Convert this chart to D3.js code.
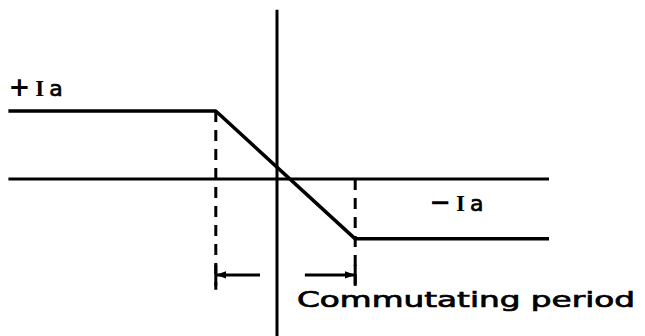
<!DOCTYPE html>
<html>
<head>
<meta charset="utf-8">
<script src="https://cdn.jsdelivr.net/npm/d3@7"></script>
<style>
  html, body { margin: 0; padding: 0; background: #fff; }
  svg text { font-family: "DejaVu Sans", sans-serif; fill: #000; }
</style>
</head>
<body>
<div id="chart"></div>
<script>
// current waveform during commutation (time in arbitrary units, current in units of Ia)
const waveT = [-3.95, -0.9, 1.15, 4.0];
const waveI = [1, 1, -0.88, -0.88];

const axisT = [-3.95, 4.0];     // horizontal axis extent
const axisI = [2.49, -2.31];    // vertical axis extent

const commStart = -0.9;
const commEnd = 1.15;
const dashLeftI = [1, -1.63];
const dashRightI = [0, -1.55];
const arrowI = -1.41;
const arrowLeftFrom = -0.25;
const arrowRightFrom = 0.41;

const labelPos = { text: "+", t: -3.95, i: 1.22 };
const labelNeg = { text: "\u2212", t: 2.24, i: -0.47 };
const periodLabel = "Commutating period";

const width = 645, height = 336;

const svg = d3.select("#chart").append("svg")
  .attr("width", width)
  .attr("height", height);

const x = d3.scaleLinear().domain([-4, 4]).range([5, 549]);
const y = d3.scaleLinear().domain([0, 1]).range([179, 111]);

svg.append("defs").append("marker")
  .attr("id", "arrow")
  .attr("viewBox", "0 0 10 10")
  .attr("refX", 10)
  .attr("refY", 5)
  .attr("markerWidth", 3.5)
  .attr("markerHeight", 3.5)
  .attr("markerUnits", "strokeWidth")
  .attr("orient", "auto")
  .append("path")
  .attr("d", "M0,1.5 L10,5 L0,8.5 Z")
  .attr("fill", "#000");

// axes
svg.append("line")
  .attr("x1", x(axisT[0])).attr("x2", x(axisT[1]))
  .attr("y1", y(0)).attr("y2", y(0))
  .attr("stroke", "#000").attr("stroke-width", 3);

svg.append("line")
  .attr("x1", x(0)).attr("x2", x(0))
  .attr("y1", y(axisI[0])).attr("y2", y(axisI[1]))
  .attr("stroke", "#000").attr("stroke-width", 3);

// waveform
const pts = waveT.map((t, k) => [t, waveI[k]]);
svg.append("path")
  .datum(pts)
  .attr("fill", "none")
  .attr("stroke", "#000")
  .attr("stroke-width", 3.5)
  .attr("stroke-linejoin", "round")
  .attr("d", d3.line().x(d => x(d[0])).y(d => y(d[1])));

// dashed guides
[[commStart, dashLeftI], [commEnd, dashRightI]].forEach(([t, r]) => {
  svg.append("line")
    .attr("x1", x(t)).attr("x2", x(t))
    .attr("y1", y(r[0])).attr("y2", y(r[1]))
    .attr("stroke", "#000").attr("stroke-width", 3)
    .attr("stroke-dasharray", "11,8");
});

// commutating period arrows with end ticks
[[arrowLeftFrom, commStart], [arrowRightFrom, commEnd]].forEach(([a, b]) => {
  svg.append("line")
    .attr("x1", x(a)).attr("x2", x(b))
    .attr("y1", y(arrowI)).attr("y2", y(arrowI))
    .attr("stroke", "#000").attr("stroke-width", 3)
    .attr("marker-end", "url(#arrow)");
  svg.append("line")
    .attr("x1", x(b)).attr("x2", x(b))
    .attr("y1", y(arrowI) - 10).attr("y2", y(arrowI) + 11)
    .attr("stroke", "#000").attr("stroke-width", 3);
});

// labels
function levelLabel(l) {
  const t = svg.append("text")
    .attr("x", x(l.t)).attr("y", y(l.i))
    .attr("font-size", 22)
    .attr("font-weight", "bold");
  t.append("tspan").attr("font-size", 26).text(l.text);
  t.append("tspan").attr("dx", 5)
    .style("font-family", "'Liberation Serif', serif").attr("font-size", 23).text("I");
  t.append("tspan").attr("dx", 5).attr("font-weight", "normal")
    .attr("stroke", "#000").attr("stroke-width", 0.7).text("a");
}
levelLabel(labelPos);
levelLabel(labelNeg);

svg.append("text")
  .attr("x", 297).attr("y", y(arrowI) + 32)
  .attr("font-size", 21)
  .attr("stroke", "#000")
  .attr("stroke-width", 0.7)
  .attr("textLength", 338)
  .attr("lengthAdjust", "spacingAndGlyphs")
  .text(periodLabel);
</script>
</body>
</html>
